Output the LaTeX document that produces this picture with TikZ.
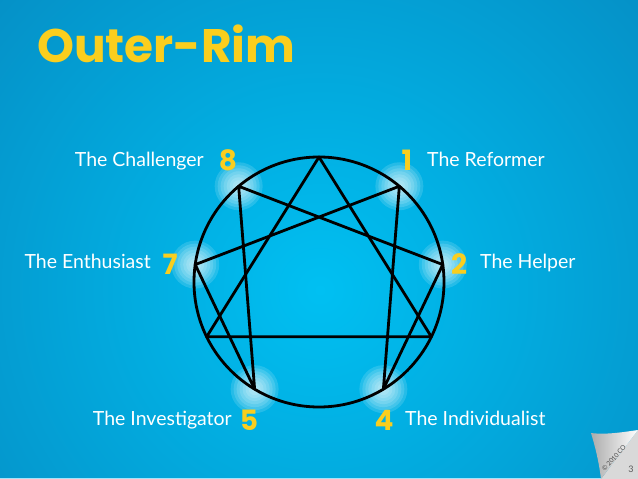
\documentclass[tikz,border=0pt]{standalone}
\usepackage{fontspec}
\setmainfont{Lato}
\newfontfamily\numfont{Poppins}
\usepackage{tikz}
\definecolor{bgdark}{RGB}{10,100,158}
\definecolor{bglight}{RGB}{0,192,242}
\definecolor{numyellow}{RGB}{250,206,30}

\begin{document}
\begin{tikzpicture}[x=1pt, y=-1pt,
    lbl/.style={text=white, font=\fontsize{19.5}{20}\selectfont, inner sep=0pt},
    num/.style={text=numyellow, font=\numfont\bfseries\fontsize{28}{28}\selectfont, inner sep=0pt},
    glow/.style={fill=white, opacity=0.14},
    ennea/.style={line width=2.8pt, line join=round}]
    % Background
    \useasboundingbox (0,0) rectangle (638,479);
    \begin{scope}
        \clip (0,0) rectangle (638,479);
        \shade[inner color=bglight, outer color=bgdark] (320,290) circle (850);
    \end{scope}
    \draw[cyan!35, line width=1pt] (0,478.5) -- (638,478.5);

    % Title
    \node[anchor=base west, inner sep=0pt, text=numyellow, font=\numfont\bfseries\fontsize{47}{47}\selectfont] (title) at (37,62) {Outer-Rim};

    % Points
    \coordinate (c) at (319,282);
    \foreach \n/\a in {9/90,1/50,2/8,3/-26,4/-59,5/-121,6/-154,7/172,8/130}
        \path (c) ++(-\a:125) coordinate (p\n);
    \foreach \n in {1,2,4,5,7,8}
        \foreach \r in {3,6,...,24}
            \fill[glow] (p\n) circle (\r);

    % Lines
    \draw[ennea] (c) circle (125);
    \draw[ennea] (p9) -- (p3) -- (p6) -- cycle;
    \draw[ennea] (p1) -- (p4) -- (p2) -- (p8) -- (p5) -- (p7) -- cycle;

    % Labels
    \node[num, anchor=base] (n8) at (228,170.5) {8};
    \node[lbl, anchor=base east] (t8) at (204,166) {The Challenger};
    \node[num, anchor=base] (n1) at (407,170.5) {1};
    \node[lbl, anchor=base west] (t1) at (427,166) {The Reformer};
    \node[num, anchor=base] (n7) at (170,274) {7};
    \node[lbl, anchor=base east] (t7) at (151,268) {The Enthusiast};
    \node[num, anchor=base] (n2) at (459,274) {2};
    \node[lbl, anchor=base west] (t2) at (480,268) {The Helper};
    \node[num, anchor=base] (n5) at (249,430) {5};
    \node[lbl, anchor=base east] (t5) at (232,425) {The Investigator};
    \node[num, anchor=base] (n4) at (384,430) {4};
    \node[lbl, anchor=base west] (t4) at (405,425) {The Individualist};

    % Page curl
    \fill[gray!30] (638,430) -- (638,479) -- (601,479) -- cycle;
    \shade[left color=gray!65, right color=white] (591,433) .. controls (606,435) and (624,432) .. (638,430) -- (601,479) .. controls (599,462) and (595,446) .. (591,433) -- cycle;
    \node[rotate=48, inner sep=0pt, text=gray!60!black, font=\fontsize{6.5}{6.5}\selectfont] (copy) at (614,458) {©\,2010\,CO};
    \node[inner sep=0pt, text=gray!70!black, font=\fontsize{9}{9}\selectfont] (page) at (631,469) {3};
\end{tikzpicture}
\end{document}
